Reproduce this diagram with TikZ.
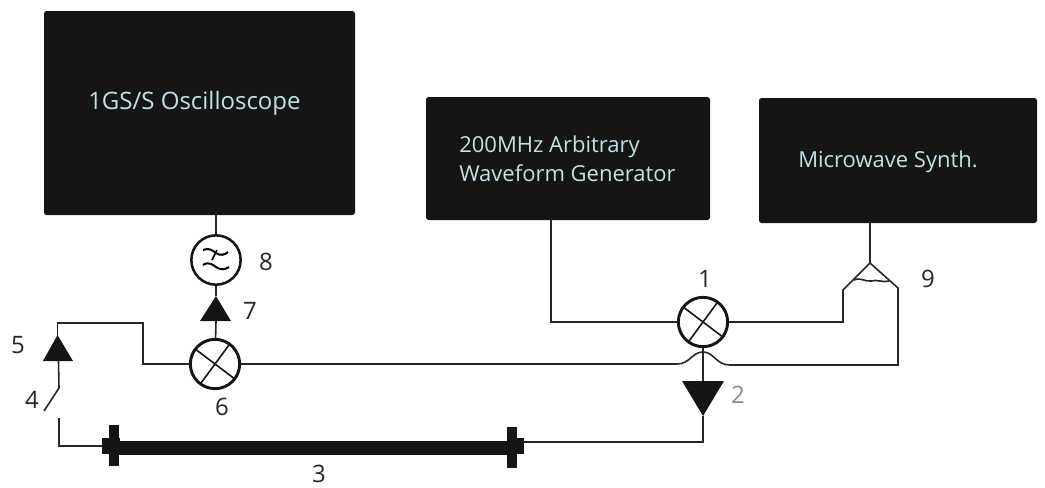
\documentclass[tikz,border=0pt]{standalone}
\usepackage{fontspec}
\setmainfont{Open Sans}
\usepackage{tikz}
\usetikzlibrary{calc}
\definecolor{labelcyan}{RGB}{190,228,232}
\definecolor{boxblack}{RGB}{22,20,20}
\tikzset{
  instrument/.style={fill=boxblack,draw=none,rounded corners=2pt},
  caption/.style={text=labelcyan,font=\fontsize{16.5}{22}\selectfont,align=left,anchor=west,inner sep=0pt},
  number/.style={text=black!85,font=\fontsize{18}{18}\selectfont},
  wire/.style={line width=1.2pt,draw=black!85},
  mixer/.style={circle,draw=boxblack,line width=2.2pt,minimum size=37pt,inner sep=0pt,fill=white},
  amp/.style={fill=boxblack,draw=none},
}
\begin{document}
\begin{tikzpicture}[x=0.75pt,y=-0.75pt]
  \useasboundingbox (0,0) rectangle (1045,487);

  % instruments
  \fill [instrument] (44,11) rectangle (355,215);
  \fill [instrument] (426,97) rectangle (710,220);
  \fill [instrument] (759,98) rectangle (1037,223);
  \node [caption,font=\fontsize{18}{22}\selectfont] (scope) at (88,103) {1GS/S Oscilloscope};
  \node [caption] (awg) at (459,159) {200MHz Arbitrary\\Waveform Generator};
  \node [caption] (synth) at (798,162) {Microwave Synth.};

  \coordinate (scopeport) at (216,215);
  \coordinate (awgport) at (551,220);
  \coordinate (synthport) at (870,223);

  % mixers and filter
  \node [mixer] (M1) at (703,322) {};
  \node [mixer] (M6) at (215,364) {};
  \node [mixer,line width=1.9pt] (F8) at (216,260) {};
  \foreach \m in {M1,M6} {
    \draw [line width=1.2pt,draw=boxblack] ($(\m)+(-18.5,-14)$) -- ($(\m)+(18.5,14)$);
    \draw [line width=1.2pt,draw=boxblack] ($(\m)+(-14,19)$) -- ($(\m)+(14,-19)$);
  }
  \draw [line width=1.5pt] (203,250) .. controls (209,247) and (213,251) .. (216,253)
    .. controls (220,256) and (225,255) .. (228,252);
  \draw [line width=1.5pt] (203,265) .. controls (209,261) and (213,265) .. (216,267)
    .. controls (220,270) and (225,270) .. (229,267);
  \draw [line width=1.2pt] (212,260) -- (217,250);

  % amplifiers
  \fill [amp] (216,296) -- (200,321) -- (231,321) -- cycle;
  \fill [amp] (57.5,335) -- (43,361) -- (73,361) -- cycle;
  \fill [amp] (682,381) -- (724,381) -- (703,416) -- cycle;
  \coordinate (A7top) at (216,296);
  \coordinate (A7bot) at (216,321);
  \coordinate (A5top) at (57.5,335);
  \coordinate (A5bot) at (58.5,361);
  \coordinate (A2top) at (703,381);
  \coordinate (A2bot) at (703,416);

  % delay line
  \fill [boxblack] (110,441) rectangle (515,455);
  \fill [boxblack] (102,438) rectangle (120,454);
  \fill [boxblack] (109,425) rectangle (119,466);
  \fill [boxblack] (507,427) rectangle (517,468);
  \fill [boxblack] (510,438) rectangle (524,454);
  \coordinate (lineL) at (102,446);
  \coordinate (lineR) at (524,442);

  % wires
  \draw [wire] (scopeport) -- (F8);
  \draw [wire] (F8) -- (A7top);
  \draw [wire] (A7bot) -- (M6);
  \draw [wire] (awgport) -- (551,322) -- (M1);
  \draw [wire] (M1) -- (843,322) -- (843,290) -- (870,263) -- (synthport);
  \draw [wire] (M1) -- (A2top);
  \draw [wire] (A2bot) -- (703,442) -- (lineR);
  \draw [wire] (lineL) -- (59,446) -- (59,418);
  \draw [wire] (44,411) -- (59,388) -- (A5bot);
  \draw [wire] (A5top) -- (57.5,323) -- (143,323) -- (143,364) -- (M6);
  \draw [wire] (M6) -- (677,364) .. controls (690,364) and (692,352) .. (703,352)
    .. controls (714,352) and (716,365) .. (730,365) -- (898,365) -- (898,288) -- (870,263);

  % coupler
  \draw [wire] (854,280) .. controls (861,277) and (865,282) .. (871,281)
    .. controls (877,279) and (883,283) .. (889,281);

  % numbers
  \node [number] (n1) at (705,279) {1};
  \node [number,text=black!45] (n2) at (738,395) {2};
  \node [number] (n3) at (319,474) {3};
  \node [number] (n4) at (32,400) {4};
  \node [number] (n5) at (18,345) {5};
  \node [number] (n6) at (222,407) {6};
  \node [number] (n7) at (250,311) {7};
  \node [number] (n8) at (266,262) {8};
  \node [number] (n9) at (928,279) {9};
\end{tikzpicture}
\end{document}
